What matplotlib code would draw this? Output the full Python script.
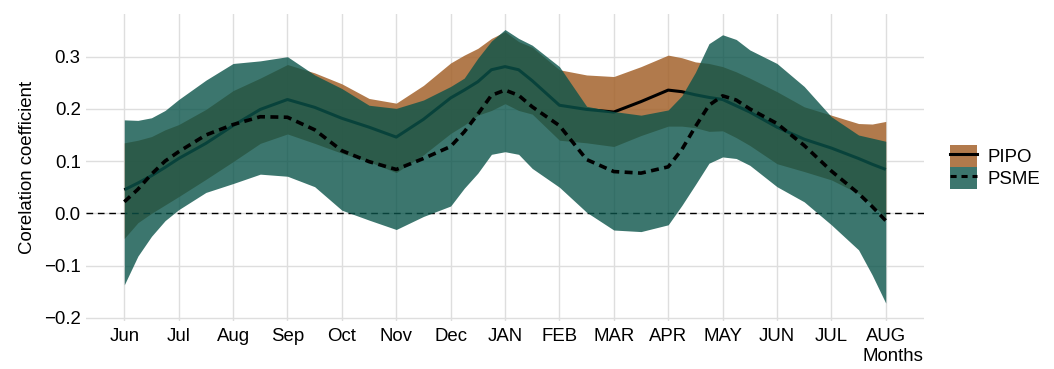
import matplotlib
matplotlib.use("Agg")
import matplotlib.pyplot as plt
from matplotlib.patches import Patch
from matplotlib.lines import Line2D
from matplotlib import font_manager

# ---- data -------------------------------------------------------------
month_labels = ["Jun", "Jul", "Aug", "Sep", "Oct", "Nov", "Dec",
                "JAN", "FEB", "MAR", "APR", "MAY", "JUN", "JUL", "AUG"]

# positions along the month axis (0 = Jun) at which the curves are given
steps = [0, 0.25, 0.5, 0.75, 1, 1.5, 2, 2.5, 3, 3.5, 4, 4.5, 5, 5.5, 6,
         6.25, 6.5, 6.75, 7, 7.25, 7.5, 8, 8.5, 9, 9.5, 10, 10.25, 10.5,
         10.75, 11, 11.25, 11.5, 12, 12.5, 13, 13.5, 13.75, 14]

pipo_mean = [0.045, 0.058, 0.072, 0.088, 0.105, 0.134, 0.168, 0.199, 0.218,
             0.203, 0.182, 0.165, 0.146, 0.180, 0.221, 0.236, 0.252, 0.275,
             0.281, 0.275, 0.254, 0.207, 0.199, 0.194, 0.214, 0.236, 0.233,
             0.227, 0.222, 0.218, 0.206, 0.194, 0.165, 0.142, 0.125, 0.105,
             0.094, 0.084]
pipo_upper = [0.135, 0.140, 0.147, 0.160, 0.170, 0.199, 0.235, 0.259, 0.285,
              0.269, 0.248, 0.220, 0.211, 0.245, 0.288, 0.303, 0.316, 0.335,
              0.348, 0.329, 0.318, 0.275, 0.265, 0.262, 0.281, 0.303, 0.298,
              0.290, 0.287, 0.281, 0.271, 0.259, 0.233, 0.204, 0.188, 0.172,
              0.171, 0.176]
pipo_lower = [-0.048, -0.018, 0.000, 0.016, 0.032, 0.065, 0.099, 0.134, 0.152,
              0.134, 0.115, 0.099, 0.078, 0.112, 0.153, 0.169, 0.188, 0.197,
              0.210, 0.197, 0.190, 0.140, 0.135, 0.128, 0.149, 0.167, 0.167,
              0.164, 0.157, 0.158, 0.145, 0.130, 0.095, 0.080, 0.064, 0.038,
              0.017, -0.008]

psme_mean = [0.022, 0.046, 0.075, 0.100, 0.118, 0.150, 0.170, 0.185, 0.184,
             0.160, 0.120, 0.099, 0.084, 0.105, 0.128, 0.156, 0.190, 0.226,
             0.236, 0.226, 0.204, 0.168, 0.103, 0.080, 0.077, 0.089, 0.122,
             0.166, 0.207, 0.225, 0.217, 0.200, 0.172, 0.130, 0.081, 0.038,
             0.013, -0.014]
psme_upper = [0.179, 0.178, 0.183, 0.197, 0.218, 0.255, 0.287, 0.292, 0.300,
              0.265, 0.239, 0.207, 0.201, 0.217, 0.243, 0.259, 0.297, 0.330,
              0.352, 0.335, 0.322, 0.281, 0.205, 0.195, 0.188, 0.198, 0.225,
              0.270, 0.325, 0.342, 0.333, 0.313, 0.287, 0.243, 0.185, 0.150,
              0.144, 0.138]
psme_lower = [-0.137, -0.082, -0.044, -0.014, 0.007, 0.040, 0.057, 0.075, 0.071,
              0.051, 0.006, -0.013, -0.031, -0.006, 0.014, 0.048, 0.077, 0.113,
              0.118, 0.113, 0.086, 0.050, 0.002, -0.032, -0.035, -0.022, 0.015,
              0.055, 0.096, 0.108, 0.105, 0.092, 0.051, 0.022, -0.022, -0.070,
              -0.118, -0.172]

y_ticks = [-0.2, -0.1, 0.0, 0.1, 0.2, 0.3]

# ---- styling ------------------------------------------------------------
available = {f.name for f in font_manager.fontManager.ttflist}
family = ["Liberation Sans", "DejaVu Sans"] if "Liberation Sans" in available else ["DejaVu Sans"]
plt.rcParams["font.family"] = family

FS = 13.4
BROWN = (164 / 255, 99 / 255, 44 / 255)
TEAL = (11 / 255, 84 / 255, 74 / 255)
GRID = "#DEDEDE"

fig = plt.figure(figsize=(10.54, 3.69), dpi=100)
ax = fig.add_axes([0.0818, 0.1293, 0.7947, 0.8328])

ax.set_xlim(-0.7, 14.7)
ax.set_ylim(-0.2068, 0.3818)

ax.set_xticks(range(len(month_labels)))
ax.set_xticklabels(month_labels, fontsize=FS, color="black")
ax.set_yticks(y_ticks)
ax.set_yticklabels([f"{v:.1f}".replace("-", "\u2212") for v in y_ticks],
                   fontsize=FS, color="black")
ax.tick_params(axis="both", length=0)
ax.tick_params(axis="x", pad=5)
ax.tick_params(axis="y", pad=4)
ax.grid(True, color=GRID, linewidth=1.0, zorder=0)
ax.set_axisbelow(True)
for s in ax.spines.values():
    s.set_visible(False)

# PIPO ribbon and mean
ax.fill_between(steps, pipo_lower, pipo_upper, color=BROWN, alpha=0.85,
                linewidth=0, zorder=1)
ax.axhline(0, color="black", linewidth=1.0, linestyle=(0, (4.8, 3.4)), zorder=2)
ax.plot(steps, pipo_mean, color="black", linewidth=2.2, zorder=3,
        solid_capstyle="butt", solid_joinstyle="round")

# PSME ribbon and mean
ax.fill_between(steps, psme_lower, psme_upper, color=TEAL, alpha=0.8,
                linewidth=0, zorder=4)
ax.plot(steps, psme_mean, color="black", linewidth=2.6,
        linestyle=(0, (2.2, 1.5)), zorder=5, dash_capstyle="butt")

ax.set_ylabel("Corelation coefficient", fontsize=FS, labelpad=6)
ax.text(1.0, -0.086, "Months", transform=ax.transAxes, ha="right", va="top",
        fontsize=FS)

# legend: ribbon swatch with the line drawn across it
teal_white = tuple(0.8 * c + 0.2 for c in TEAL)
brown_white = tuple(0.85 * c + 0.15 for c in BROWN)
handles = [
    (Patch(facecolor=brown_white, edgecolor="none"),
     Line2D([], [], color="black", linewidth=2.2)),
    (Patch(facecolor=teal_white, edgecolor="none"),
     Line2D([], [], color="black", linewidth=2.2, linestyle=(0, (2.0, 1.6)))),
]
fig.legend(handles, ["PIPO", "PSME"], loc="upper left",
           bbox_to_anchor=(0.9013, 0.607), frameon=False, fontsize=FS,
           handlelength=1.45, handleheight=1.45, labelspacing=0.0,
           handletextpad=0.55, borderpad=0.0, borderaxespad=0.0)

fig.savefig("out.png", dpi=100)
